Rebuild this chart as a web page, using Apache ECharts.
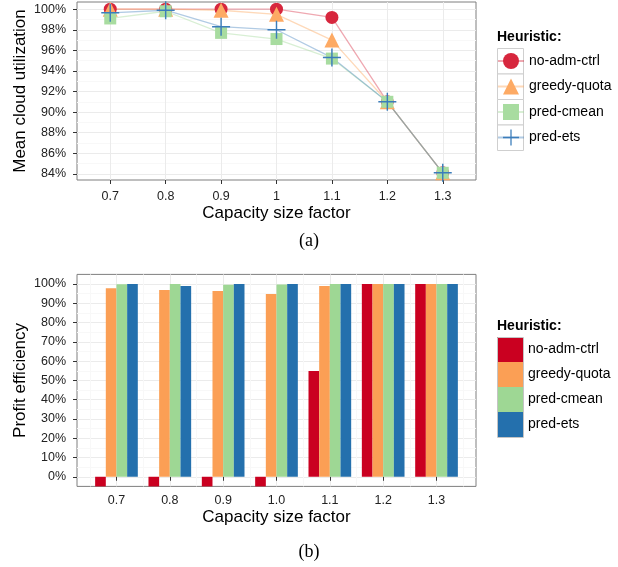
<!DOCTYPE html>
<html><head><meta charset="utf-8">
<script src="https://cdn.jsdelivr.net/npm/echarts@6/dist/echarts.min.js"></script>
<style>html,body{margin:0;padding:0;background:#fff}#top{position:absolute;left:0;top:0;width:618px;height:260px}#bot{position:absolute;left:0;top:260px;width:618px;height:307px}</style>
</head><body><div id="top"></div><div id="bot"></div>
<script>
// ---- data ----
const heuristics = ['no-adm-ctrl', 'greedy-quota', 'pred-cmean', 'pred-ets'];
const factors = [0.7, 0.8, 0.9, 1.0, 1.1, 1.2, 1.3];
// (a) mean cloud utilization (%)
const utilNoAdm  = [100, 100, 100, 100, 99.2, 91.0, 84.1];
const utilGreedy = [100, 100, 99.9, 99.5, 97.0, 91.0, 84.1];
const utilCmean  = [99.1, 99.8, 97.7, 97.1, 95.2, 91.0, 84.1];
const utilEts    = [99.65, 99.9, 98.3, 98.0, 95.3, 91.0, 84.1];
// (b) profit efficiency (%)
const profNoAdm  = [-5, -5, -5, -5, 54.9, 100, 100];
const profGreedy = [97.8, 96.9, 96.4, 94.8, 99.0, 100, 100];
const profCmean  = [99.9, 100, 99.6, 99.7, 100, 100, 100];
const profEts    = [100, 99.0, 100, 100, 100, 100, 100];
// ticks
const utilTicks = [84, 86, 88, 90, 92, 94, 96, 98, 100];
const utilMinor = [85, 87, 89, 91, 93, 95, 97, 99];
const profTicks = [0, 10, 20, 30, 40, 50, 60, 70, 80, 90, 100];
const profMinor = [5, 15, 25, 35, 45, 55, 65, 75, 85, 95];
const xMinor = [0.65, 0.75, 0.85, 0.95, 1.05, 1.15, 1.25, 1.35];

// ---- styles ----
const FF = "'Liberation Sans', Arial, Helvetica, sans-serif";
const MAJOR = '#ebebeb', MINOR = '#f8f8f8';
const pointColors = ['#d7263d', '#fdaa64', '#a8dca0', '#3b7dbb'];
const lineColors = ['rgba(215,38,61,0.4)', 'rgba(253,170,100,0.45)', 'rgba(168,220,160,0.45)', 'rgba(59,125,187,0.4)'];
const barColors = ['#ca0020', '#fb9f55', '#9ed794', '#2470ad'];
const CROSS = 'path://M0,9.2h20v1.6h-20z M9.2,0h1.6v20h-1.6z';
const symbols = ['circle', 'triangle', 'rect', CROSS];
const symSizes = [13, 15, 12, 18];

function pairs(arr) { return factors.map((f, i) => [f, arr[i]]); }

function majorAxis(base, ticks, fmt, margin) {
  return Object.assign({
    type: 'value',
    axisLine: { show: false },
    axisTick: { show: true, length: 4, lineStyle: { color: '#333', width: 1 }, customValues: ticks },
    axisLabel: { customValues: ticks, formatter: fmt, fontSize: 12.5, color: '#222', fontFamily: FF, margin: margin },
    splitLine: { show: true, lineStyle: { color: MAJOR, width: 1 } },
    nameLocation: 'middle',
    nameMoveOverlap: false,
    nameTextStyle: { fontSize: 17, color: '#000', fontFamily: FF }
  }, base);
}
function minorAxis(base, ticks) {
  return Object.assign({
    type: 'value',
    axisLine: { show: false },
    axisTick: { show: false, customValues: ticks },
    axisLabel: { show: false, customValues: ticks },
    splitLine: { show: true, lineStyle: { color: MINOR, width: 1 } }
  }, base);
}
const pct = v => v + '%';
const fmtA = v => String(Math.round(v * 10) / 10);
const fmtB = v => (Math.round(v * 10) / 10).toFixed(1);

// ---- (a) ----
const chartA = echarts.init(document.getElementById('top'));
const utilData = [utilNoAdm, utilGreedy, utilCmean, utilEts];
const keyBoxesA = [0, 1, 2, 3].map(i => ({
  type: 'rect', z: 1,
  shape: { x: 497.5, y: 48.5 + i * 25.5, width: 26, height: 25.5 },
  style: { fill: '#fff', stroke: '#cfcfcf', lineWidth: 1 }
}));
chartA.setOption({
  animation: false,
  backgroundColor: '#fff',
  textStyle: { fontFamily: FF },
  grid: { left: 77, top: 2, width: 399, height: 178, show: true, borderColor: '#7f7f7f', borderWidth: 1, backgroundColor: '#fff', outerBoundsMode: 'none' },
  title: [
    { text: '(a)', left: 'center', top: 232, padding: 0, textStyle: { fontFamily: "'Liberation Serif', 'Times New Roman', serif", fontSize: 18, fontWeight: 'normal', color: '#000' } },
    { text: 'Heuristic:', left: 497, top: 30, padding: 0, textStyle: { fontFamily: FF, fontSize: 14, fontWeight: 'bold', color: '#000' } }
  ],
  legend: {
    orient: 'vertical', left: 497, top: 53, z: 10, padding: 0,
    itemWidth: 26, itemHeight: 20, itemGap: 9.5,
    data: heuristics, selectedMode: false,
    textStyle: { fontSize: 14, color: '#000', fontFamily: FF }
  },
  graphic: keyBoxesA,
  xAxis: [
    majorAxis({ min: 0.64, max: 1.36, position: 'bottom', name: 'Capacity size factor', nameGap: 24.5 }, factors, fmtA, 10)
  ],
  yAxis: [
    majorAxis({ min: 83.4, max: 100.7, position: 'left', name: 'Mean cloud utilization', nameGap: 48 }, utilTicks, pct, 11),
    minorAxis({ min: 83.4, max: 100.7, position: 'left' }, utilMinor)
  ],
  series: heuristics.map((n, i) => ({
    name: n, type: 'line', xAxisIndex: 0, yAxisIndex: 0,
    data: pairs(utilData[i]),
    symbol: symbols[i], symbolSize: symSizes[i], showAllSymbol: true,
    itemStyle: { color: pointColors[i], opacity: 1 },
    lineStyle: { color: lineColors[i], width: 1.3 },
    emphasis: { disabled: true }
  }))
});

// ---- (b) ----
const chartB = echarts.init(document.getElementById('bot'));
const profData = [profNoAdm, profGreedy, profCmean, profEts];
chartB.setOption({
  animation: false,
  backgroundColor: '#fff',
  textStyle: { fontFamily: FF },
  grid: { left: 77, top: 14.4, width: 399, height: 212, show: true, borderColor: '#7f7f7f', borderWidth: 1, backgroundColor: '#fff', outerBoundsMode: 'none' },
  title: [
    { text: '(b)', left: 'center', top: 283, padding: 0, textStyle: { fontFamily: "'Liberation Serif', 'Times New Roman', serif", fontSize: 18, fontWeight: 'normal', color: '#000' } },
    { text: 'Heuristic:', left: 497, top: 59, padding: 0, textStyle: { fontFamily: FF, fontSize: 14, fontWeight: 'bold', color: '#000' } }
  ],
  legend: {
    orient: 'vertical', left: 497, top: 77, z: 10, padding: 0,
    itemWidth: 26, itemHeight: 25, itemGap: 0, icon: 'rect',
    data: heuristics, selectedMode: false,
    itemStyle: { borderWidth: 0 },
    textStyle: { fontSize: 14, color: '#000', fontFamily: FF }
  },
  graphic: [{
    type: 'rect', z: 20,
    shape: { x: 497.5, y: 77.5, width: 26, height: 100 },
    style: { fill: 'none', stroke: '#c4c4c4', lineWidth: 1 }
  }],
  xAxis: [
    majorAxis({ min: 0.626, max: 1.374, position: 'bottom', name: 'Capacity size factor', nameGap: 22 }, factors, fmtB, 8),
    minorAxis({ min: 0.626, max: 1.374, position: 'bottom' }, xMinor)
  ],
  yAxis: [
    majorAxis({ min: -5, max: 105, position: 'left', name: 'Profit efficiency', nameGap: 48 }, profTicks, pct, 11),
    minorAxis({ min: -5, max: 105, position: 'left' }, profMinor)
  ],
  series: heuristics.map((n, i) => ({
    name: n, type: 'bar', xAxisIndex: 0, yAxisIndex: 0,
    data: pairs(profData[i]),
    barWidth: '20%', barGap: '0%',
    itemStyle: { color: barColors[i] },
    emphasis: { disabled: true }
  }))
});
</script></body></html>
